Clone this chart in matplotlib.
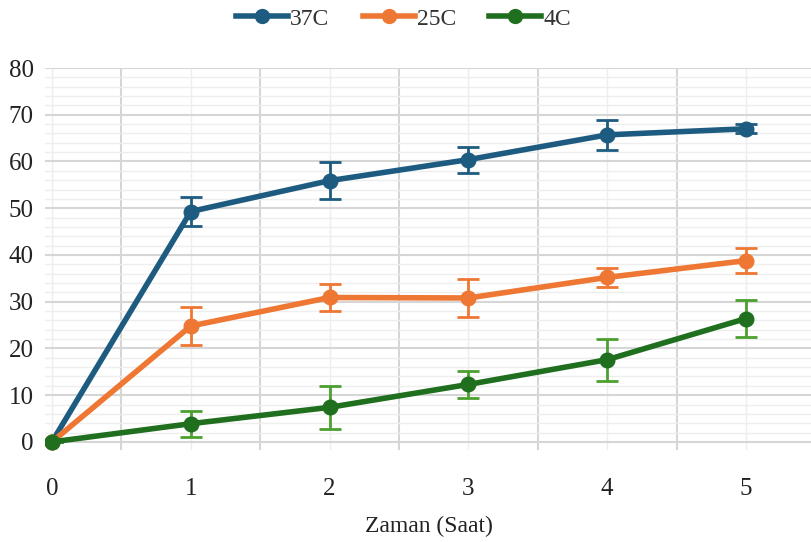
import matplotlib.pyplot as plt
from matplotlib.lines import Line2D
from matplotlib.ticker import MultipleLocator

hours = [0, 1, 2, 3, 4, 5]
series_names = ["37C", "25C", "4C"]
vals_37 = [0, 49.3, 55.9, 60.4, 65.7, 67.0]
err_37 = [0, 3.1, 4.0, 2.8, 3.2, 1.0]
vals_25 = [0, 24.8, 30.9, 30.8, 35.2, 38.8]
err_25 = [0, 4.0, 2.8, 4.0, 2.0, 2.7]
vals_4 = [0, 3.9, 7.4, 12.3, 17.6, 26.4]
err_4 = [0, 2.8, 4.6, 2.8, 4.5, 4.0]

line_colors = ["#1d5c80", "#ee7733", "#1f6f1f"]
err_colors = ["#1d5c80", "#ee7733", "#4ba02f"]

plt.rcParams['font.family'] = ['Liberation Serif', 'DejaVu Serif']

fig = plt.figure(figsize=(8.12, 5.42), dpi=100)
ax = fig.add_axes([0.0554, 0.170, 0.9446, 0.7045])

handles = []
for name, v, e, lc, ec in zip(series_names, [vals_37, vals_25, vals_4],
                              [err_37, err_25, err_4], line_colors, err_colors):
    ax.errorbar(hours, v, yerr=e, color=lc, ecolor=ec, lw=4, marker='o',
                ms=10.5, elinewidth=2, capsize=8, capthick=2, zorder=3)
    handles.append(Line2D([], [], color=lc, lw=4, marker='o', ms=10, label=name))

ax.set_xlim(-0.05, 5.475)
ax.set_ylim(-1.7, 80)
ax.set_xticks(hours)
ax.set_yticks(range(0, 81, 10))
ax.xaxis.set_minor_locator(MultipleLocator(0.5))
ax.yaxis.set_minor_locator(MultipleLocator(2))
ax.grid(which='major', axis='y', color='#d6d6d6', lw=1.5)
ax.grid(which='minor', axis='y', color='#eeeeee', lw=1)
ax.grid(which='minor', axis='x', color='#d6d6d6', lw=1.5)
ax.grid(which='major', axis='x', color='#eeeeee', lw=1)
ax.set_axisbelow(True)
for s in ax.spines.values():
    s.set_visible(False)
ax.tick_params(which='both', length=0, labelsize=18, colors='#222222')
ax.tick_params(axis='x', pad=20)
ax.tick_params(axis='y', pad=8)
ax.set_xlabel("Zaman (Saat)", fontsize=17, labelpad=12, color='#222222')

fig.legend(handles=handles, loc='center', bbox_to_anchor=(0.497, 0.965), ncol=3,
           frameon=False, fontsize=17, handlelength=2.2, columnspacing=1.4,
           handletextpad=0.1, labelcolor='#333333')

fig.savefig("out.png", dpi=100)
